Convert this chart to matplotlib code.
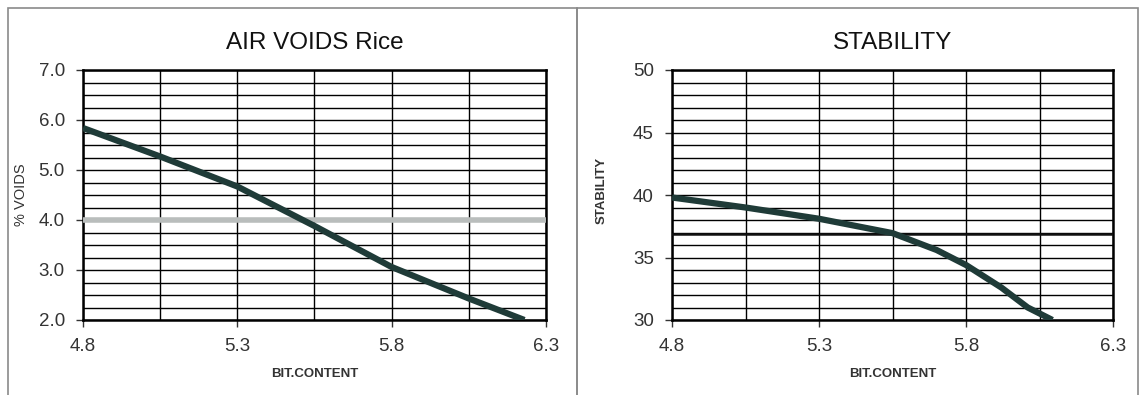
import matplotlib
matplotlib.use("Agg")
import matplotlib.pyplot as plt
import numpy as np
from matplotlib.patches import Rectangle

plt.rcParams['font.family'] = ['Liberation Sans', 'DejaVu Sans']

# air voids curve
av_x = [4.8, 5.05, 5.3, 5.55, 5.8, 6.05, 6.23]
av_y = [5.84, 5.27, 4.67, 3.88, 3.06, 2.43, 2.0]
av_target = 4.0

# stability curve
st_x = [4.8, 5.05, 5.3, 5.55, 5.7, 5.8, 5.92, 6.01, 6.094]
st_y = [39.8, 39.0, 38.1, 36.95, 35.6, 34.4, 32.6, 31.0, 30.0]
st_target = 36.9

xticks = [4.8, 5.3, 5.8, 6.3]

W, H = 1144, 395
fig = plt.figure(figsize=(W / 100, H / 100), dpi=100)
fig.patch.set_facecolor('white')

curve_col = '#1f3b38'
txt_col = '#333333'


def px(x0, y0, x1, y1):
    # pixel box -> figure fraction rect
    return [x0 / W, 1 - y1 / H, (x1 - x0) / W, (y1 - y0) / H]


def setup(ax, ylo, yhi, ystep, ymajor, fmt, title, ylabel, ylsize):
    ax.set_xlim(4.8, 6.3)
    ax.set_ylim(ylo, yhi)
    ax.set_xticks(xticks)
    ax.set_xticklabels([f"{v:.1f}" for v in xticks])
    ax.set_xticks(np.arange(4.8, 6.31, 0.25), minor=True)
    ax.set_yticks(np.arange(ylo, yhi + 0.001, ymajor))
    ax.set_yticklabels([fmt.format(v) for v in np.arange(ylo, yhi + 0.001, ymajor)])
    ax.set_yticks(np.arange(ylo, yhi + 0.001, ystep), minor=True)
    ax.grid(True, which='both', color='black', lw=1.0)
    ax.tick_params(which='minor', length=0)
    ax.tick_params(which='major', length=5, width=1, colors=txt_col, labelsize=13.5)
    ax.tick_params(axis='y', pad=8)
    ax.tick_params(axis='x', pad=8)
    for s in ax.spines.values():
        s.set_linewidth(1.8)
    ax.set_title(title, fontsize=17.5, pad=15, color='#111111')
    ax.set_xlabel('BIT.CONTENT', fontsize=9.5, fontweight='bold', labelpad=9, color=txt_col)
    ax.set_ylabel(ylabel, fontsize=ylsize, labelpad=2, color=txt_col)
    ax.set_axisbelow(True)


ax1 = fig.add_axes(px(83, 70, 546, 320))
setup(ax1, 2.0, 7.0, 0.25, 1.0, "{:.1f}", 'AIR VOIDS Rice', '% VOIDS', 10.5)
ax1.axhline(av_target, color='#b9bdbc', lw=4, zorder=3)
ax1.plot(av_x, av_y, color=curve_col, lw=4.5, zorder=4, solid_capstyle='butt')
ax1.yaxis.set_label_coords(-0.118, 0.5)

ax2 = fig.add_axes(px(672, 70, 1113, 320))
setup(ax2, 30, 50, 1, 5, "{:.0f}", 'STABILITY', 'STABILITY', 9.5)
ax2.axhline(st_target, color='#111111', lw=1.8, zorder=3)
ax2.plot(st_x, st_y, color=curve_col, lw=4.5, zorder=4, solid_capstyle='butt')
ax2.yaxis.set_label_coords(-0.145, 0.52)
ax2.yaxis.label.set_fontweight('bold')

# panel frames
for (x0, x1) in [(8, 577), (577, 1138)]:
    fig.patches.append(Rectangle((x0 / W, -0.01), (x1 - x0) / W, 1 - 8 / H + 0.01,
                                 transform=fig.transFigure, fill=False,
                                 edgecolor='#8a8a8a', lw=1.2))

fig.savefig('out.png', dpi=100)
